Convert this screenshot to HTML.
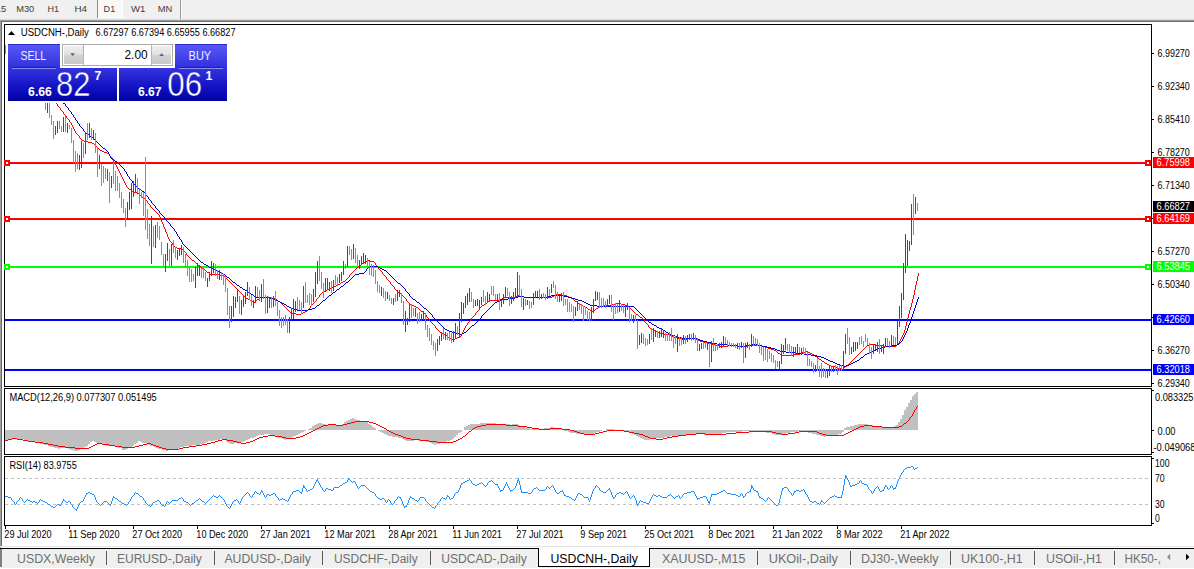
<!DOCTYPE html>
<html><head><meta charset="utf-8"><title>USDCNH-,Daily</title>
<style>html,body{margin:0;padding:0;background:#fff;width:1194px;height:569px;overflow:hidden;font-family:"Liberation Sans",sans-serif}</style>
</head><body>
<svg width="1194" height="569" viewBox="0 0 1194 569" shape-rendering="crispEdges" style="position:absolute;left:0;top:0;font-family:'Liberation Sans',sans-serif">
<rect x="0" y="0" width="1194" height="569" fill="#ffffff"/>
<rect x="0" y="0" width="1194" height="19" fill="#f0f0f0"/>
<rect x="0" y="19" width="1194" height="1" fill="#d9d9d9"/>
<rect x="0" y="20" width="1194" height="1" fill="#a0a0a0"/>
<rect x="0" y="21" width="1194" height="1" fill="#696969"/>
<rect x="0" y="20" width="1" height="529" fill="#a0a0a0"/>
<rect x="1" y="21" width="1" height="525" fill="#696969"/>
<path d="M4.5 24.5H1151.5V386.5H4.5Z" fill="none" stroke="#000" stroke-width="1"/>
<path d="M4.5 388.5H1151.5V454.5H4.5Z" fill="none" stroke="#000" stroke-width="1"/>
<path d="M4.5 456.5H1151.5V525.5H4.5Z" fill="none" stroke="#000" stroke-width="1"/>
<rect x="5" y="162" width="1146" height="2" fill="#ff0000"/>
<rect x="4" y="160" width="6" height="6" fill="#ff0000"/>
<rect x="6" y="162" width="2" height="2" fill="#fff"/>
<rect x="1145" y="160" width="6" height="6" fill="#ff0000"/>
<rect x="1147" y="162" width="2" height="2" fill="#fff"/>
<rect x="5" y="218" width="1146" height="2" fill="#ff0000"/>
<rect x="4" y="216" width="6" height="6" fill="#ff0000"/>
<rect x="6" y="218" width="2" height="2" fill="#fff"/>
<rect x="1145" y="216" width="6" height="6" fill="#ff0000"/>
<rect x="1147" y="218" width="2" height="2" fill="#fff"/>
<rect x="5" y="266" width="1146" height="2" fill="#00ff00"/>
<rect x="4" y="264" width="6" height="6" fill="#00ff00"/>
<rect x="6" y="266" width="2" height="2" fill="#fff"/>
<rect x="1145" y="264" width="6" height="6" fill="#00ff00"/>
<rect x="1147" y="266" width="2" height="2" fill="#fff"/>
<rect x="5" y="319" width="1146" height="2" fill="#0000ff"/>
<rect x="5" y="369" width="1146" height="2" fill="#0000ff"/>
<path d="M56 103.5h1M57.5 104v2M58 106.5h1M59 107.5h1M60.5 108v2M61 110.5h1M62 111.5h1M63.5 112v2M64 114.5h1M65 115.5h1M66.5 116v2M67 118.5h1M68 119.5h1M69.5 120v2M70 122.5h1M71.5 123v2M72.5 125v2M73.5 127v2M74.5 129v2M75.5 131v2M76 133.5h1M77 134.5h1M78 135.5h1M79.5 136v2M80 138.5h1M81 139.5h1M82 140.5h2M84 141.5h4M88 142.5h4M92 143.5h2M94 144.5h1M95 145.5h1M96 146.5h1M97 147.5h1M98 148.5h1M99 149.5h1M100 150.5h2M102 151.5h2M104 152.5h3M107 153.5h2M109.5 154v2M110 156.5h1M111.5 157v2M112 159.5h1M113.5 160v2M114 162.5h1M115.5 163v2M116.5 165v2M117.5 167v2M118.5 169v2M119.5 171v2M120.5 173v2M121.5 175v2M122.5 177v2M123.5 179v2M124.5 181v2M125.5 183v2M126.5 185v2M127 187.5h1M128 188.5h1M129 189.5h2M131 190.5h1M132 191.5h2M134 192.5h3M137 193.5h2M139 194.5h1M140 195.5h1M141 196.5h1M142 197.5h2M144 198.5h1M145 199.5h1M146 200.5h1M147.5 201v2M148 203.5h1M149 204.5h1M150.5 205v2M151 207.5h1M152 208.5h1M153 209.5h1M154 210.5h1M155 211.5h1M156 212.5h1M157 213.5h1M158 214.5h1M159.5 215v2M160.5 217v2M161.5 219v3M162.5 222v2M163.5 224v3M164.5 227v2M165.5 229v3M166.5 232v2M167.5 234v3M168.5 237v2M169.5 239v2M170 241.5h1M171 242.5h1M172.5 243v2M173 245.5h1M174 246.5h1M175 247.5h2M177 248.5h4M181 249.5h2M183 250.5h1M184 251.5h1M185 252.5h1M186.5 253v2M187 255.5h1M188 256.5h1M189 257.5h1M190 258.5h1M191 259.5h1M192 260.5h2M194 261.5h1M195 262.5h1M196 263.5h1M197 264.5h1M198 265.5h2M200 266.5h1M201 267.5h1M202 268.5h2M204 269.5h1M205 270.5h1M206 271.5h1M207 272.5h2M209 273.5h1M210 274.5h10M220 275.5h3M223 276.5h2M225 277.5h1M226 278.5h1M227 279.5h1M228 280.5h1M229 281.5h1M230 282.5h1M231 283.5h1M232 284.5h1M233 285.5h1M234 286.5h1M235 287.5h1M236 288.5h1M237 289.5h1M238 290.5h1M239 291.5h1M240 292.5h1M241 293.5h1M242 294.5h1M243 295.5h1M244 296.5h1M245 297.5h1M246 298.5h2M248 299.5h2M250 300.5h1M251 301.5h2M253 302.5h2M255 301.5h1M256 300.5h1M257 299.5h2M259 298.5h1M260 297.5h11M271 298.5h5M276 299.5h1M277 300.5h1M278 301.5h2M280 302.5h1M281 303.5h1M282 304.5h1M283 305.5h1M284 306.5h1M285 307.5h1M286 308.5h1M287 309.5h1M288 310.5h1M289 311.5h1M290 312.5h1M291 313.5h5M296 314.5h5M301 313.5h2M303 312.5h2M305 311.5h2M307 310.5h1M308 309.5h1M309 308.5h1M310.5 306v2M311 305.5h1M312 304.5h1M313 303.5h1M314 302.5h1M315 301.5h1M316.5 299v2M317 298.5h1M318 297.5h1M319.5 295v2M320 294.5h1M321 293.5h1M322 292.5h2M324 291.5h1M325 290.5h2M327 289.5h2M329 288.5h2M331 287.5h3M334 286.5h2M336 285.5h2M338 284.5h2M340 283.5h1M341 282.5h2M343 281.5h2M345 280.5h1M346 279.5h1M347 278.5h1M348 277.5h1M349.5 275v2M350 274.5h1M351 273.5h1M352 272.5h1M353 271.5h1M354 270.5h1M355 269.5h1M356 268.5h1M357 267.5h1M358 266.5h1M359 265.5h2M361 264.5h1M362 263.5h2M364 262.5h1M365 261.5h2M367 260.5h3M370 261.5h4M374 262.5h1M375.5 263v2M376 265.5h1M377 266.5h1M378.5 267v2M379 269.5h1M380 270.5h1M381 271.5h1M382.5 272v2M383 274.5h1M384 275.5h1M385 276.5h1M386.5 277v2M387 279.5h1M388 280.5h1M389 281.5h1M390.5 282v2M391 284.5h1M392 285.5h1M393 286.5h1M394.5 287v2M395 289.5h1M396 290.5h1M397 291.5h1M398 292.5h1M399 293.5h2M401 294.5h1M402 295.5h1M403 296.5h1M404 297.5h1M405 298.5h1M406.5 299v2M407 301.5h1M408 302.5h1M409 303.5h1M410 304.5h2M412 305.5h2M414 306.5h2M416 307.5h2M418 308.5h1M419 309.5h1M420 310.5h1M421 311.5h2M423 312.5h1M424 313.5h1M425 314.5h1M426.5 315v2M427 317.5h1M428 318.5h1M429.5 319v2M430 321.5h1M431 322.5h1M432 323.5h1M433 324.5h1M434 325.5h1M435.5 326v2M436 328.5h1M437 329.5h1M438 330.5h1M439 331.5h1M440 332.5h2M442 333.5h1M443 334.5h2M445 335.5h2M447 336.5h1M448 337.5h2M450 338.5h2M452 339.5h3M455 338.5h2M457 337.5h2M459 336.5h2M461.5 334v2M462.5 332v2M463.5 330v2M464.5 328v2M465.5 326v2M466 325.5h1M467.5 323v2M468 322.5h1M469 321.5h1M470 320.5h1M471.5 318v2M472 317.5h1M473 316.5h1M474 315.5h1M475.5 313v2M476 312.5h1M477 311.5h1M478 310.5h1M479.5 308v2M480 307.5h1M481 306.5h1M482 305.5h2M484 304.5h1M485 303.5h2M487 302.5h1M488 301.5h2M490 300.5h10M500 299.5h2M502 298.5h2M504 297.5h11M515 296.5h2M517 295.5h3M520 296.5h4M524 297.5h28M552 296.5h2M554 295.5h2M556 294.5h5M561 295.5h6M567 296.5h2M569 297.5h2M571 298.5h2M573 299.5h1M574 300.5h1M575 301.5h2M577 302.5h1M578 303.5h1M579 304.5h2M581 305.5h2M583 306.5h2M585 307.5h2M587 308.5h1M588 309.5h2M590 310.5h2M592 311.5h1M593 310.5h2M595 309.5h1M596 308.5h2M598 307.5h2M600 306.5h4M604 305.5h7M611 304.5h5M616 303.5h5M621 304.5h4M625 305.5h3M628 306.5h1M629 307.5h1M630 308.5h1M631 309.5h1M632 310.5h1M633 311.5h1M634 312.5h1M635 313.5h1M636 314.5h2M638 315.5h1M639 316.5h1M640 317.5h2M642 318.5h1M643 319.5h1M644.5 320v2M645 322.5h1M646 323.5h1M647 324.5h1M648.5 325v2M649 327.5h1M650 328.5h1M651 329.5h2M653 330.5h2M655 331.5h2M657 332.5h2M659 333.5h4M663 334.5h6M669 335.5h2M671 336.5h3M674 337.5h4M678 338.5h4M682 339.5h5M687 338.5h9M696 339.5h2M698 340.5h2M700 341.5h3M703 342.5h4M707 343.5h4M711 344.5h4M715 345.5h5M720 346.5h8M728 345.5h10M738 346.5h10M748 345.5h14M762 346.5h3M765 347.5h3M768 348.5h3M771 349.5h3M774 350.5h2M776 351.5h1M777 352.5h1M778 353.5h2M780 354.5h1M781 355.5h13M794 354.5h6M800 353.5h2M802 352.5h3M805 351.5h3M808 352.5h2M810 353.5h2M812 354.5h2M814 355.5h1M815 356.5h2M817 357.5h1M818 358.5h1M819 359.5h2M821 360.5h1M822 361.5h2M824 362.5h1M825 363.5h2M827 364.5h2M829 365.5h2M831 366.5h4M835 367.5h3M838 368.5h3M841 369.5h2M843 368.5h1M844 367.5h1M845 366.5h2M847 365.5h1M848 364.5h1M849 363.5h1M850 362.5h1M851 361.5h1M852 360.5h1M853 359.5h1M854 358.5h1M855 357.5h1M856 356.5h1M857 355.5h1M858 354.5h1M859 353.5h1M860 352.5h1M861 351.5h1M862 350.5h1M863 349.5h1M864 348.5h1M865 347.5h1M866 346.5h1M867 345.5h2M869 344.5h6M875 345.5h8M883 346.5h13M896 345.5h1M897 344.5h1M898 343.5h1M899.5 341v2M900.5 339v2M901.5 337v2M902.5 335v2M903.5 333v2M904.5 330v3M905.5 326v4M906.5 322v4M907.5 318v4M908.5 314v4M909.5 310v4M910.5 307v3M911.5 303v4M912.5 299v4M913.5 295v4M914.5 290v5M915.5 285v5M916.5 281v4M917.5 276v5M918.5 273v3" fill="none" stroke="#ff0000" stroke-width="1"/>
<path d="M63 103.5h2M65.5 104v2M66 106.5h1M67 107.5h1M68.5 108v2M69 110.5h1M70 111.5h1M71.5 112v2M72 114.5h1M73.5 115v2M74 117.5h1M75.5 118v2M76 120.5h1M77.5 121v2M78 123.5h1M79.5 124v2M80 126.5h1M81 127.5h1M82 128.5h1M83.5 129v2M84 131.5h1M85 132.5h1M86 133.5h1M87 134.5h2M89 135.5h1M90 136.5h1M91 137.5h2M93 138.5h1M94 139.5h1M95 140.5h1M96 141.5h1M97 142.5h1M98 143.5h1M99 144.5h1M100 145.5h1M101 146.5h1M102 147.5h1M103 148.5h2M105 149.5h1M106 150.5h1M107 151.5h1M108.5 152v2M109.5 154v2M110.5 156v2M111 158.5h2M113 159.5h1M114 160.5h1M115 161.5h2M117 162.5h1M118 163.5h1M119 164.5h1M120 165.5h1M121 166.5h1M122 167.5h1M123 168.5h1M124.5 169v2M125 171.5h1M126.5 172v2M127.5 174v2M128 176.5h1M129.5 177v2M130 179.5h1M131 180.5h1M132.5 181v2M133 183.5h1M134 184.5h1M135 185.5h1M136 186.5h1M137 187.5h1M138 188.5h1M139 189.5h2M141 190.5h1M142 191.5h2M144 192.5h1M145.5 193v2M146 195.5h1M147 196.5h1M148.5 197v2M149 199.5h1M150 200.5h1M151.5 201v2M152 203.5h1M153 204.5h1M154 205.5h1M155.5 206v2M156 208.5h1M157 209.5h1M158 210.5h1M159.5 211v2M160 213.5h1M161 214.5h1M162 215.5h1M163 216.5h1M164.5 217v2M165 219.5h1M166 220.5h1M167 221.5h1M168 222.5h1M169 223.5h1M170.5 224v2M171 226.5h1M172 227.5h1M173 228.5h1M174.5 229v2M175 231.5h1M176.5 232v2M177.5 234v2M178 236.5h1M179.5 237v2M180 239.5h1M181.5 240v2M182.5 242v2M183 244.5h1M184 245.5h1M185 246.5h1M186 247.5h1M187 248.5h1M188 249.5h1M189 250.5h1M190 251.5h1M191 252.5h1M192 253.5h1M193 254.5h1M194 255.5h1M195 256.5h1M196 257.5h1M197 258.5h1M198 259.5h1M199 260.5h1M200 261.5h1M201 262.5h2M203 263.5h1M204 264.5h2M206 265.5h2M208 266.5h1M209 267.5h2M211 268.5h2M213 269.5h2M215 270.5h2M217 271.5h2M219 272.5h2M221 273.5h2M223 274.5h2M225 275.5h1M226 276.5h1M227 277.5h2M229 278.5h1M230 279.5h1M231 280.5h1M232 281.5h1M233 282.5h2M235 283.5h1M236 284.5h1M237 285.5h2M239 286.5h1M240 287.5h2M242 288.5h1M243 289.5h2M245 290.5h2M247 291.5h1M248 292.5h2M250 293.5h1M251 294.5h2M253 295.5h1M254 296.5h2M256 297.5h13M269 298.5h4M273 299.5h3M276 300.5h2M278 301.5h2M280 302.5h2M282 303.5h2M284 304.5h2M286 305.5h1M287 306.5h2M289 307.5h2M291 308.5h2M293 309.5h4M297 310.5h11M308 309.5h4M312 308.5h3M315 307.5h1M316 306.5h1M317 305.5h2M319 304.5h1M320 303.5h1M321 302.5h1M322 301.5h1M323 300.5h2M325 299.5h1M326 298.5h1M327 297.5h1M328 296.5h1M329 295.5h2M331 294.5h1M332 293.5h1M333 292.5h2M335 291.5h1M336 290.5h1M337 289.5h2M339 288.5h1M340 287.5h1M341 286.5h2M343 285.5h1M344 284.5h1M345 283.5h1M346 282.5h2M348 281.5h1M349 280.5h1M350 279.5h1M351 278.5h1M352 277.5h1M353 276.5h1M354 275.5h1M355 274.5h4M359 273.5h5M364 272.5h1M365 271.5h1M366.5 269v2M367 268.5h1M368 267.5h1M369 266.5h9M378 267.5h2M380 268.5h2M382 269.5h2M384 270.5h2M386 271.5h1M387 272.5h1M388 273.5h1M389 274.5h1M390 275.5h1M391 276.5h1M392 277.5h1M393 278.5h1M394 279.5h1M395 280.5h1M396 281.5h1M397 282.5h1M398 283.5h2M400 284.5h1M401 285.5h1M402 286.5h1M403 287.5h1M404 288.5h1M405.5 289v2M406 291.5h1M407 292.5h1M408 293.5h1M409.5 294v2M410 296.5h1M411 297.5h1M412 298.5h1M413 299.5h2M415 300.5h1M416 301.5h1M417 302.5h2M419 303.5h1M420 304.5h1M421 305.5h1M422 306.5h1M423 307.5h1M424 308.5h2M426 309.5h1M427 310.5h1M428 311.5h1M429 312.5h1M430 313.5h1M431 314.5h1M432.5 315v2M433 317.5h1M434 318.5h1M435 319.5h1M436 320.5h1M437 321.5h1M438 322.5h1M439 323.5h1M440 324.5h1M441 325.5h1M442 326.5h1M443 327.5h1M444 328.5h1M445 329.5h2M447 330.5h2M449 331.5h3M452 332.5h3M455 333.5h4M459 334.5h3M462 333.5h2M464 332.5h2M466 331.5h1M467 330.5h1M468 329.5h1M469 328.5h1M470 327.5h1M471 326.5h1M472 325.5h2M474 324.5h1M475 323.5h1M476 322.5h1M477 321.5h1M478 320.5h1M479 319.5h1M480 318.5h1M481.5 316v2M482 315.5h1M483 314.5h1M484 313.5h1M485 312.5h1M486 311.5h1M487 310.5h1M488 309.5h1M489 308.5h1M490 307.5h1M491 306.5h1M492 305.5h1M493 304.5h1M494 303.5h1M495 302.5h2M497 301.5h2M499 300.5h2M501 299.5h7M508 298.5h7M515 297.5h3M518 296.5h6M524 297.5h23M547 296.5h4M551 295.5h13M564 296.5h4M568 297.5h4M572 298.5h3M575 299.5h3M578 300.5h4M582 301.5h2M584 302.5h2M586 303.5h2M588 304.5h2M590 305.5h7M597 306.5h37M634 307.5h1M635 308.5h1M636 309.5h1M637 310.5h1M638 311.5h1M639 312.5h1M640 313.5h1M641 314.5h1M642 315.5h1M643 316.5h1M644 317.5h1M645 318.5h1M646 319.5h1M647 320.5h1M648 321.5h1M649 322.5h2M651 323.5h1M652 324.5h2M654 325.5h2M656 326.5h1M657 327.5h2M659 328.5h2M661 329.5h2M663 330.5h2M665 331.5h1M666 332.5h2M668 333.5h2M670 334.5h2M672 335.5h3M675 336.5h3M678 337.5h3M681 338.5h16M697 339.5h3M700 340.5h3M703 341.5h4M707 342.5h4M711 343.5h6M717 344.5h11M728 345.5h10M738 346.5h8M746 345.5h6M752 344.5h5M757 345.5h5M762 346.5h5M767 347.5h4M771 348.5h4M775 349.5h2M777 350.5h3M780 351.5h6M786 352.5h9M795 353.5h9M804 354.5h7M811 355.5h6M817 356.5h4M821 357.5h3M824 358.5h2M826 359.5h2M828 360.5h2M830 361.5h3M833 362.5h2M835 363.5h2M837 364.5h3M840 365.5h3M843 366.5h3M846 365.5h3M849 364.5h2M851 363.5h2M853 362.5h2M855 361.5h2M857 360.5h2M859 359.5h1M860 358.5h1M861 357.5h2M863 356.5h1M864 355.5h1M865 354.5h2M867 353.5h3M870 352.5h2M872 351.5h2M874 350.5h2M876 349.5h2M878 348.5h3M881 347.5h4M885 346.5h6M891 345.5h6M897 344.5h2M899 343.5h1M900 342.5h1M901 341.5h1M902.5 339v2M903.5 337v2M904.5 335v2M905.5 333v2M906.5 331v2M907.5 328v3M908.5 325v3M909.5 323v2M910.5 320v3M911.5 317v3M912.5 314v3M913.5 311v3M914.5 308v3M915.5 305v3M916.5 302v3M917.5 299v3M918.5 297v2" fill="none" stroke="#0000cd" stroke-width="1"/>
<path d="M45.5 103V110M49.5 103V118M51.5 115V125M53.5 121V139M59.5 121V129M61.5 126V132M65.5 116V132M69.5 125V129M71.5 128V143M73.5 140V163M75.5 151V172M77.5 153V169M83.5 143V158M87.5 123V140M91.5 128V140M95.5 133V153M97.5 147V177M101.5 164V186M103.5 166V183M105.5 168V179M109.5 172V203M113.5 162V184M115.5 171V191M117.5 176V191M119.5 183V198M121.5 192V208M123.5 199V213M125.5 208V227M137.5 178V193M139.5 188V204M141.5 192V198M143.5 192V216M145.5 157V230M147.5 209V239M149.5 224V246M153.5 226V247M157.5 222V238M159.5 226V240M161.5 242V255M163.5 254V266M169.5 249V266M173.5 240V253M175.5 247V258M183.5 247V263M185.5 254V267M187.5 260V276M189.5 266V282M191.5 269V282M193.5 274V281M201.5 268V278M203.5 266V278M205.5 272V281M215.5 264V276M217.5 270V279M221.5 272V280M223.5 274V285M225.5 276V292M227.5 288V315M229.5 306V328M239.5 296V314M249.5 287V300M251.5 295V306M257.5 287V297M259.5 290V301M263.5 279V299M265.5 295V314M271.5 297V308M275.5 291V306M277.5 302V316M279.5 310V326M281.5 317V328M283.5 317V326M285.5 315V325M287.5 319V333M297.5 297V310M299.5 300V310M301.5 302V314M305.5 282V303M307.5 295V303M309.5 293V305M311.5 294V306M319.5 256V281M321.5 272V289M323.5 283V298M331.5 281V293M335.5 275V285M337.5 277V286M345.5 264V269M349.5 246V255M351.5 249V260M355.5 248V263M357.5 255V267M367.5 258V266M369.5 261V275M371.5 264V276M373.5 265V277M375.5 270V284M377.5 281V292M379.5 285V293M383.5 288V298M385.5 291V301M389.5 295V301M391.5 298V304M395.5 294V302M401.5 293V303M403.5 301V325M411.5 304V318M413.5 308V316M417.5 313V324M419.5 312V322M425.5 313V330M427.5 325V337M429.5 328V341M431.5 334V345M433.5 341V350M435.5 343V356M443.5 328V339M447.5 333V340M449.5 332V341M451.5 333V343M457.5 326V335M471.5 292V302M473.5 299V308M483.5 290V302M485.5 296V305M491.5 286V295M493.5 286V296M495.5 294V300M499.5 293V310M507.5 288V296M509.5 292V306M519.5 275V296M521.5 289V307M525.5 299V306M529.5 301V309M531.5 302V308M539.5 289V300M543.5 293V298M545.5 294V300M549.5 289V296M553.5 281V288M555.5 285V299M557.5 292V302M563.5 292V306M565.5 299V305M567.5 299V312M569.5 302V312M571.5 304V312M573.5 306V322M579.5 303V310M581.5 304V314M583.5 306V321M585.5 307V315M587.5 311V320M589.5 312V321M599.5 292V308M601.5 298V308M603.5 298V307M605.5 301V308M611.5 295V312M613.5 304V320M615.5 303V314M617.5 304V313M621.5 304V311M623.5 305V313M629.5 307V322M631.5 314V321M635.5 315V321M637.5 320V349M643.5 334V344M645.5 338V346M647.5 339V345M651.5 328V340M657.5 331V338M665.5 333V341M667.5 334V341M669.5 332V341M671.5 328V341M673.5 335V348M675.5 336V344M679.5 337V346M681.5 337V345M685.5 336V344M691.5 334V341M695.5 335V343M697.5 338V351M703.5 342V349M705.5 342V348M709.5 343V367M713.5 338V351M715.5 344V351M717.5 344V350M725.5 337V344M727.5 340V346M729.5 342V346M731.5 343V347M733.5 343V347M735.5 344V348M739.5 343V350M743.5 343V363M749.5 344V350M753.5 336V346M755.5 338V345M757.5 339V346M759.5 343V353M761.5 346V355M763.5 347V361M765.5 348V360M767.5 349V362M769.5 351V359M771.5 353V362M773.5 355V363M775.5 360V369M777.5 361V367M787.5 344V351M789.5 344V353M791.5 346V356M799.5 347V353M803.5 347V354M805.5 348V354M807.5 352V366M809.5 359V366M811.5 361V367M813.5 363V373M817.5 358V371M819.5 366V377M821.5 363V378M823.5 368V377M825.5 369V378M831.5 367V372M835.5 365V371M837.5 366V375M839.5 365V371M841.5 365V371M847.5 328V344M849.5 337V355M859.5 337V345M861.5 336V344M863.5 341V347M865.5 334V342M867.5 338V345M869.5 343V354M871.5 347V359M879.5 339V354M887.5 338V346M889.5 341V348M893.5 336V345M895.5 337V345M913.5 194V235M917.5 203V211" stroke="#32cd32" stroke-width="1" fill="none"/>
<path d="M47.5 103V113M55.5 126V135M57.5 121V133M63.5 117V132M67.5 123V133M79.5 155V170M81.5 141V168M85.5 132V154M89.5 123V138M93.5 130V140M99.5 155V169M107.5 169V181M111.5 176V188M127.5 202V219M129.5 192V210M131.5 183V209M133.5 181V197M135.5 174V193M151.5 216V264M155.5 225V248M165.5 254V272M167.5 243V261M171.5 244V266M177.5 250V260M179.5 248V256M181.5 245V255M195.5 267V288M197.5 263V276M199.5 266V276M207.5 278V287M209.5 272V281M211.5 261V276M213.5 263V273M219.5 270V280M231.5 306V322M233.5 296V317M235.5 297V308M237.5 289V302M241.5 300V315M243.5 296V307M245.5 292V304M247.5 282V296M253.5 300V308M255.5 286V303M261.5 284V302M267.5 296V313M269.5 297V308M273.5 296V307M289.5 317V333M291.5 308V320M293.5 299V319M295.5 301V312M303.5 286V308M313.5 289V302M315.5 272V297M317.5 261V284M325.5 278V292M327.5 278V290M329.5 282V291M333.5 280V291M339.5 274V283M341.5 272V281M343.5 261V275M347.5 246V267M353.5 244V259M359.5 260V269M361.5 256V264M363.5 253V263M365.5 255V264M381.5 287V296M387.5 292V299M393.5 298V305M397.5 290V301M399.5 290V297M405.5 311V332M407.5 318V325M409.5 303V322M415.5 308V317M421.5 314V321M423.5 311V320M437.5 339V351M439.5 336V345M441.5 333V341M445.5 332V340M453.5 331V342M455.5 323V339M459.5 313V338M461.5 302V322M463.5 303V314M465.5 296V308M467.5 293V305M469.5 288V302M475.5 300V306M477.5 299V306M479.5 300V308M481.5 297V305M487.5 292V302M489.5 294V301M497.5 294V301M501.5 300V307M503.5 294V304M505.5 287V298M511.5 296V304M513.5 292V301M515.5 288V298M517.5 272V297M523.5 298V310M527.5 300V305M533.5 293V305M535.5 291V298M537.5 291V297M541.5 294V299M547.5 287V299M551.5 284V293M559.5 296V302M561.5 293V301M575.5 307V316M577.5 301V311M591.5 307V321M593.5 299V313M595.5 291V301M597.5 292V300M607.5 299V307M609.5 295V304M619.5 300V312M625.5 305V317M627.5 303V310M633.5 315V323M639.5 335V345M641.5 333V343M649.5 334V344M653.5 328V342M655.5 330V337M659.5 331V338M661.5 328V337M663.5 330V338M677.5 334V352M683.5 335V344M687.5 335V342M689.5 334V340M693.5 333V340M699.5 344V351M701.5 343V349M707.5 342V350M711.5 341V362M719.5 343V348M721.5 342V348M723.5 336V347M737.5 343V349M741.5 342V348M745.5 343V358M747.5 342V348M751.5 334V347M779.5 361V370M781.5 344V364M783.5 345V354M785.5 338V350M793.5 347V357M795.5 347V354M797.5 344V354M801.5 348V355M815.5 365V372M827.5 369V378M829.5 365V376M833.5 366V372M843.5 351V370M845.5 334V354M851.5 347V354M853.5 342V352M855.5 342V351M857.5 342V349M873.5 345V354M875.5 344V350M877.5 342V352M881.5 345V352M883.5 344V354M885.5 338V347M891.5 335V346M897.5 321V344M899.5 306V327M901.5 293V318M903.5 263V300M905.5 234V273M907.5 240V266M909.5 241V251M911.5 204V245M915.5 197V214" stroke="#ff0000" stroke-width="1" fill="none"/>
<rect x="5" y="45" width="1" height="9" fill="#32cd32"/>
<g fill="#c0c0c0"><rect x="5" y="430" width="1" height="10"/><rect x="6" y="430" width="2" height="10"/><rect x="8" y="430" width="2" height="9"/><rect x="10" y="430" width="2" height="9"/><rect x="12" y="430" width="2" height="9"/><rect x="14" y="430" width="2" height="9"/><rect x="16" y="430" width="2" height="9"/><rect x="18" y="430" width="2" height="9"/><rect x="20" y="430" width="2" height="9"/><rect x="22" y="430" width="2" height="9"/><rect x="24" y="430" width="2" height="10"/><rect x="26" y="430" width="2" height="11"/><rect x="28" y="430" width="2" height="11"/><rect x="30" y="430" width="2" height="12"/><rect x="32" y="430" width="2" height="12"/><rect x="34" y="430" width="2" height="12"/><rect x="36" y="430" width="2" height="13"/><rect x="38" y="430" width="2" height="13"/><rect x="40" y="430" width="2" height="14"/><rect x="42" y="430" width="2" height="14"/><rect x="44" y="430" width="2" height="15"/><rect x="46" y="430" width="2" height="15"/><rect x="48" y="430" width="2" height="16"/><rect x="50" y="430" width="2" height="17"/><rect x="52" y="430" width="2" height="17"/><rect x="54" y="430" width="2" height="18"/><rect x="56" y="430" width="2" height="18"/><rect x="58" y="430" width="2" height="19"/><rect x="60" y="430" width="2" height="18"/><rect x="62" y="430" width="2" height="18"/><rect x="64" y="430" width="2" height="18"/><rect x="66" y="430" width="2" height="18"/><rect x="68" y="430" width="2" height="19"/><rect x="70" y="430" width="2" height="20"/><rect x="72" y="430" width="2" height="20"/><rect x="74" y="430" width="2" height="21"/><rect x="76" y="430" width="2" height="21"/><rect x="78" y="430" width="2" height="20"/><rect x="80" y="430" width="2" height="19"/><rect x="82" y="430" width="2" height="19"/><rect x="84" y="430" width="2" height="17"/><rect x="86" y="430" width="2" height="16"/><rect x="88" y="430" width="2" height="14"/><rect x="90" y="430" width="2" height="12"/><rect x="92" y="430" width="2" height="11"/><rect x="94" y="430" width="2" height="12"/><rect x="96" y="430" width="2" height="13"/><rect x="98" y="430" width="2" height="14"/><rect x="100" y="430" width="2" height="14"/><rect x="102" y="430" width="2" height="15"/><rect x="104" y="430" width="2" height="15"/><rect x="106" y="430" width="2" height="16"/><rect x="108" y="430" width="2" height="16"/><rect x="110" y="430" width="2" height="16"/><rect x="112" y="430" width="2" height="16"/><rect x="114" y="430" width="2" height="16"/><rect x="116" y="430" width="2" height="16"/><rect x="118" y="430" width="2" height="18"/><rect x="120" y="430" width="2" height="18"/><rect x="122" y="430" width="2" height="20"/><rect x="124" y="430" width="2" height="20"/><rect x="126" y="430" width="2" height="19"/><rect x="128" y="430" width="2" height="18"/><rect x="130" y="430" width="2" height="17"/><rect x="132" y="430" width="2" height="16"/><rect x="134" y="430" width="2" height="14"/><rect x="136" y="430" width="2" height="13"/><rect x="138" y="430" width="2" height="11"/><rect x="140" y="430" width="2" height="12"/><rect x="142" y="430" width="2" height="13"/><rect x="144" y="430" width="2" height="13"/><rect x="146" y="430" width="2" height="14"/><rect x="148" y="430" width="2" height="15"/><rect x="150" y="430" width="2" height="16"/><rect x="152" y="430" width="2" height="16"/><rect x="154" y="430" width="2" height="17"/><rect x="156" y="430" width="2" height="18"/><rect x="158" y="430" width="2" height="19"/><rect x="160" y="430" width="2" height="19"/><rect x="162" y="430" width="2" height="20"/><rect x="164" y="430" width="2" height="20"/><rect x="166" y="430" width="2" height="21"/><rect x="168" y="430" width="2" height="20"/><rect x="170" y="430" width="2" height="20"/><rect x="172" y="430" width="2" height="19"/><rect x="174" y="430" width="2" height="19"/><rect x="176" y="430" width="2" height="19"/><rect x="178" y="430" width="2" height="18"/><rect x="180" y="430" width="2" height="17"/><rect x="182" y="430" width="2" height="17"/><rect x="184" y="430" width="2" height="16"/><rect x="186" y="430" width="2" height="16"/><rect x="188" y="430" width="2" height="16"/><rect x="190" y="430" width="2" height="16"/><rect x="192" y="430" width="2" height="15"/><rect x="194" y="430" width="2" height="15"/><rect x="196" y="430" width="2" height="15"/><rect x="198" y="430" width="2" height="15"/><rect x="200" y="430" width="2" height="14"/><rect x="202" y="430" width="2" height="14"/><rect x="204" y="430" width="2" height="13"/><rect x="206" y="430" width="2" height="12"/><rect x="208" y="430" width="2" height="11"/><rect x="210" y="430" width="2" height="11"/><rect x="212" y="430" width="2" height="11"/><rect x="214" y="430" width="2" height="10"/><rect x="216" y="430" width="2" height="10"/><rect x="218" y="430" width="2" height="10"/><rect x="220" y="430" width="2" height="9"/><rect x="222" y="430" width="2" height="9"/><rect x="224" y="430" width="2" height="10"/><rect x="226" y="430" width="2" height="12"/><rect x="228" y="430" width="2" height="13"/><rect x="230" y="430" width="2" height="14"/><rect x="232" y="430" width="2" height="14"/><rect x="234" y="430" width="2" height="13"/><rect x="236" y="430" width="2" height="13"/><rect x="238" y="430" width="2" height="12"/><rect x="240" y="430" width="2" height="12"/><rect x="242" y="430" width="2" height="12"/><rect x="244" y="430" width="2" height="11"/><rect x="246" y="430" width="2" height="10"/><rect x="248" y="430" width="2" height="9"/><rect x="250" y="430" width="2" height="8"/><rect x="252" y="430" width="2" height="8"/><rect x="254" y="430" width="2" height="7"/><rect x="256" y="430" width="2" height="6"/><rect x="258" y="430" width="2" height="5"/><rect x="260" y="430" width="2" height="5"/><rect x="262" y="430" width="2" height="5"/><rect x="264" y="430" width="2" height="4"/><rect x="266" y="430" width="2" height="4"/><rect x="268" y="430" width="2" height="4"/><rect x="270" y="430" width="2" height="5"/><rect x="272" y="430" width="2" height="5"/><rect x="274" y="430" width="2" height="6"/><rect x="276" y="430" width="2" height="7"/><rect x="278" y="430" width="2" height="8"/><rect x="280" y="430" width="2" height="8"/><rect x="282" y="430" width="2" height="9"/><rect x="284" y="430" width="2" height="10"/><rect x="286" y="430" width="2" height="9"/><rect x="288" y="430" width="2" height="9"/><rect x="290" y="430" width="2" height="8"/><rect x="292" y="430" width="2" height="7"/><rect x="294" y="430" width="2" height="6"/><rect x="296" y="430" width="2" height="5"/><rect x="298" y="430" width="2" height="4"/><rect x="300" y="430" width="2" height="3"/><rect x="302" y="430" width="2" height="2"/><rect x="304" y="430" width="2" height="1"/><rect x="308" y="429" width="2" height="1"/><rect x="310" y="428" width="2" height="2"/><rect x="312" y="426" width="2" height="4"/><rect x="314" y="425" width="2" height="5"/><rect x="316" y="424" width="2" height="6"/><rect x="318" y="423" width="2" height="7"/><rect x="320" y="423" width="2" height="7"/><rect x="322" y="424" width="2" height="6"/><rect x="324" y="424" width="2" height="6"/><rect x="326" y="425" width="2" height="5"/><rect x="328" y="425" width="2" height="5"/><rect x="330" y="425" width="2" height="5"/><rect x="332" y="425" width="2" height="5"/><rect x="334" y="425" width="2" height="5"/><rect x="336" y="425" width="2" height="5"/><rect x="338" y="425" width="2" height="5"/><rect x="340" y="425" width="2" height="5"/><rect x="342" y="424" width="2" height="6"/><rect x="344" y="422" width="2" height="8"/><rect x="346" y="421" width="2" height="9"/><rect x="348" y="420" width="2" height="10"/><rect x="350" y="419" width="2" height="11"/><rect x="352" y="418" width="2" height="12"/><rect x="354" y="419" width="2" height="11"/><rect x="356" y="420" width="2" height="10"/><rect x="358" y="420" width="2" height="10"/><rect x="360" y="421" width="2" height="9"/><rect x="362" y="421" width="2" height="9"/><rect x="364" y="421" width="2" height="9"/><rect x="366" y="422" width="2" height="8"/><rect x="368" y="424" width="2" height="6"/><rect x="370" y="425" width="2" height="5"/><rect x="372" y="427" width="2" height="3"/><rect x="374" y="428" width="2" height="2"/><rect x="378" y="430" width="2" height="1"/><rect x="380" y="430" width="2" height="2"/><rect x="382" y="430" width="2" height="3"/><rect x="384" y="430" width="2" height="4"/><rect x="386" y="430" width="2" height="5"/><rect x="388" y="430" width="2" height="6"/><rect x="390" y="430" width="2" height="6"/><rect x="392" y="430" width="2" height="7"/><rect x="394" y="430" width="2" height="7"/><rect x="396" y="430" width="2" height="7"/><rect x="398" y="430" width="2" height="8"/><rect x="400" y="430" width="2" height="8"/><rect x="402" y="430" width="2" height="9"/><rect x="404" y="430" width="2" height="10"/><rect x="406" y="430" width="2" height="11"/><rect x="408" y="430" width="2" height="11"/><rect x="410" y="430" width="2" height="11"/><rect x="412" y="430" width="2" height="11"/><rect x="414" y="430" width="2" height="10"/><rect x="416" y="430" width="2" height="10"/><rect x="418" y="430" width="2" height="11"/><rect x="420" y="430" width="2" height="11"/><rect x="422" y="430" width="2" height="11"/><rect x="424" y="430" width="2" height="11"/><rect x="426" y="430" width="2" height="12"/><rect x="428" y="430" width="2" height="12"/><rect x="430" y="430" width="2" height="13"/><rect x="432" y="430" width="2" height="14"/><rect x="434" y="430" width="2" height="15"/><rect x="436" y="430" width="2" height="14"/><rect x="438" y="430" width="2" height="14"/><rect x="440" y="430" width="2" height="13"/><rect x="442" y="430" width="2" height="12"/><rect x="444" y="430" width="2" height="12"/><rect x="446" y="430" width="2" height="11"/><rect x="448" y="430" width="2" height="11"/><rect x="450" y="430" width="2" height="10"/><rect x="452" y="430" width="2" height="9"/><rect x="454" y="430" width="2" height="7"/><rect x="456" y="430" width="2" height="5"/><rect x="458" y="430" width="2" height="3"/><rect x="460" y="430" width="2" height="2"/><rect x="464" y="427" width="2" height="3"/><rect x="466" y="426" width="2" height="4"/><rect x="468" y="425" width="2" height="5"/><rect x="470" y="424" width="2" height="6"/><rect x="472" y="424" width="2" height="6"/><rect x="474" y="424" width="2" height="6"/><rect x="476" y="424" width="2" height="6"/><rect x="478" y="424" width="2" height="6"/><rect x="480" y="423" width="2" height="7"/><rect x="482" y="423" width="2" height="7"/><rect x="484" y="423" width="2" height="7"/><rect x="486" y="423" width="2" height="7"/><rect x="488" y="423" width="2" height="7"/><rect x="490" y="423" width="2" height="7"/><rect x="492" y="423" width="2" height="7"/><rect x="494" y="423" width="2" height="7"/><rect x="496" y="424" width="2" height="6"/><rect x="498" y="424" width="2" height="6"/><rect x="500" y="424" width="2" height="6"/><rect x="502" y="424" width="2" height="6"/><rect x="504" y="424" width="2" height="6"/><rect x="506" y="424" width="2" height="6"/><rect x="508" y="424" width="2" height="6"/><rect x="510" y="425" width="2" height="5"/><rect x="512" y="424" width="2" height="6"/><rect x="514" y="424" width="2" height="6"/><rect x="516" y="424" width="2" height="6"/><rect x="518" y="425" width="2" height="5"/><rect x="520" y="426" width="2" height="4"/><rect x="522" y="426" width="2" height="4"/><rect x="524" y="427" width="2" height="3"/><rect x="526" y="428" width="2" height="2"/><rect x="528" y="428" width="2" height="2"/><rect x="530" y="429" width="2" height="1"/><rect x="532" y="429" width="2" height="1"/><rect x="534" y="429" width="2" height="1"/><rect x="536" y="429" width="2" height="1"/><rect x="538" y="429" width="2" height="1"/><rect x="540" y="429" width="2" height="1"/><rect x="542" y="429" width="2" height="1"/><rect x="544" y="428" width="2" height="2"/><rect x="546" y="428" width="2" height="2"/><rect x="548" y="428" width="2" height="2"/><rect x="550" y="427" width="2" height="3"/><rect x="552" y="427" width="2" height="3"/><rect x="554" y="428" width="2" height="2"/><rect x="556" y="428" width="2" height="2"/><rect x="558" y="428" width="2" height="2"/><rect x="560" y="429" width="2" height="1"/><rect x="564" y="430" width="2" height="1"/><rect x="566" y="430" width="2" height="1"/><rect x="568" y="430" width="2" height="2"/><rect x="570" y="430" width="2" height="3"/><rect x="572" y="430" width="2" height="3"/><rect x="574" y="430" width="2" height="3"/><rect x="576" y="430" width="2" height="4"/><rect x="578" y="430" width="2" height="4"/><rect x="580" y="430" width="2" height="4"/><rect x="582" y="430" width="2" height="4"/><rect x="584" y="430" width="2" height="5"/><rect x="586" y="430" width="2" height="4"/><rect x="588" y="430" width="2" height="4"/><rect x="590" y="430" width="2" height="4"/><rect x="592" y="430" width="2" height="4"/><rect x="594" y="430" width="2" height="3"/><rect x="596" y="430" width="2" height="2"/><rect x="598" y="430" width="2" height="2"/><rect x="600" y="430" width="2" height="1"/><rect x="606" y="429" width="2" height="1"/><rect x="608" y="429" width="2" height="1"/><rect x="610" y="429" width="2" height="1"/><rect x="612" y="429" width="2" height="1"/><rect x="624" y="430" width="2" height="1"/><rect x="626" y="430" width="2" height="1"/><rect x="628" y="430" width="2" height="2"/><rect x="630" y="430" width="2" height="3"/><rect x="632" y="430" width="2" height="4"/><rect x="634" y="430" width="2" height="5"/><rect x="636" y="430" width="2" height="6"/><rect x="638" y="430" width="2" height="7"/><rect x="640" y="430" width="2" height="8"/><rect x="642" y="430" width="2" height="9"/><rect x="644" y="430" width="2" height="10"/><rect x="646" y="430" width="2" height="10"/><rect x="648" y="430" width="2" height="10"/><rect x="650" y="430" width="2" height="9"/><rect x="652" y="430" width="2" height="9"/><rect x="654" y="430" width="2" height="8"/><rect x="656" y="430" width="2" height="8"/><rect x="658" y="430" width="2" height="8"/><rect x="660" y="430" width="2" height="8"/><rect x="662" y="430" width="2" height="8"/><rect x="664" y="430" width="2" height="7"/><rect x="666" y="430" width="2" height="7"/><rect x="668" y="430" width="2" height="7"/><rect x="670" y="430" width="2" height="6"/><rect x="672" y="430" width="2" height="6"/><rect x="674" y="430" width="2" height="6"/><rect x="676" y="430" width="2" height="6"/><rect x="678" y="430" width="2" height="6"/><rect x="680" y="430" width="2" height="5"/><rect x="682" y="430" width="2" height="5"/><rect x="684" y="430" width="2" height="5"/><rect x="686" y="430" width="2" height="4"/><rect x="688" y="430" width="2" height="4"/><rect x="690" y="430" width="2" height="4"/><rect x="692" y="430" width="2" height="4"/><rect x="694" y="430" width="2" height="4"/><rect x="696" y="430" width="2" height="4"/><rect x="698" y="430" width="2" height="4"/><rect x="700" y="430" width="2" height="4"/><rect x="702" y="430" width="2" height="4"/><rect x="704" y="430" width="2" height="5"/><rect x="706" y="430" width="2" height="5"/><rect x="708" y="430" width="2" height="5"/><rect x="710" y="430" width="2" height="5"/><rect x="712" y="430" width="2" height="5"/><rect x="714" y="430" width="2" height="4"/><rect x="716" y="430" width="2" height="4"/><rect x="718" y="430" width="2" height="4"/><rect x="720" y="430" width="2" height="4"/><rect x="722" y="430" width="2" height="3"/><rect x="724" y="430" width="2" height="3"/><rect x="726" y="430" width="2" height="2"/><rect x="728" y="430" width="2" height="2"/><rect x="730" y="430" width="2" height="2"/><rect x="732" y="430" width="2" height="2"/><rect x="734" y="430" width="2" height="2"/><rect x="736" y="430" width="2" height="2"/><rect x="738" y="430" width="2" height="2"/><rect x="740" y="430" width="2" height="2"/><rect x="742" y="430" width="2" height="1"/><rect x="744" y="430" width="2" height="1"/><rect x="746" y="430" width="2" height="1"/><rect x="748" y="430" width="2" height="1"/><rect x="750" y="430" width="2" height="1"/><rect x="752" y="430" width="2" height="1"/><rect x="754" y="430" width="2" height="1"/><rect x="756" y="430" width="2" height="1"/><rect x="758" y="430" width="2" height="2"/><rect x="760" y="430" width="2" height="2"/><rect x="762" y="430" width="2" height="2"/><rect x="764" y="430" width="2" height="2"/><rect x="766" y="430" width="2" height="3"/><rect x="768" y="430" width="2" height="3"/><rect x="770" y="430" width="2" height="3"/><rect x="772" y="430" width="2" height="4"/><rect x="774" y="430" width="2" height="5"/><rect x="776" y="430" width="2" height="5"/><rect x="778" y="430" width="2" height="5"/><rect x="780" y="430" width="2" height="5"/><rect x="782" y="430" width="2" height="4"/><rect x="784" y="430" width="2" height="4"/><rect x="786" y="430" width="2" height="3"/><rect x="788" y="430" width="2" height="3"/><rect x="790" y="430" width="2" height="2"/><rect x="792" y="430" width="2" height="2"/><rect x="794" y="430" width="2" height="2"/><rect x="796" y="430" width="2" height="2"/><rect x="798" y="430" width="2" height="1"/><rect x="800" y="430" width="2" height="1"/><rect x="802" y="430" width="2" height="1"/><rect x="804" y="430" width="2" height="2"/><rect x="806" y="430" width="2" height="2"/><rect x="808" y="430" width="2" height="3"/><rect x="810" y="430" width="2" height="3"/><rect x="812" y="430" width="2" height="4"/><rect x="814" y="430" width="2" height="4"/><rect x="816" y="430" width="2" height="5"/><rect x="818" y="430" width="2" height="5"/><rect x="820" y="430" width="2" height="6"/><rect x="822" y="430" width="2" height="6"/><rect x="824" y="430" width="2" height="7"/><rect x="826" y="430" width="2" height="6"/><rect x="828" y="430" width="2" height="6"/><rect x="830" y="430" width="2" height="6"/><rect x="832" y="430" width="2" height="5"/><rect x="834" y="430" width="2" height="5"/><rect x="836" y="430" width="2" height="5"/><rect x="838" y="430" width="2" height="4"/><rect x="840" y="430" width="2" height="4"/><rect x="842" y="430" width="2" height="2"/><rect x="844" y="428" width="2" height="2"/><rect x="846" y="427" width="2" height="3"/><rect x="848" y="427" width="2" height="3"/><rect x="850" y="426" width="2" height="4"/><rect x="852" y="426" width="2" height="4"/><rect x="854" y="425" width="2" height="5"/><rect x="856" y="425" width="2" height="5"/><rect x="858" y="424" width="2" height="6"/><rect x="860" y="424" width="2" height="6"/><rect x="862" y="424" width="2" height="6"/><rect x="864" y="424" width="2" height="6"/><rect x="866" y="424" width="2" height="6"/><rect x="868" y="425" width="2" height="5"/><rect x="870" y="425" width="2" height="5"/><rect x="872" y="425" width="2" height="5"/><rect x="874" y="426" width="2" height="4"/><rect x="876" y="426" width="2" height="4"/><rect x="878" y="426" width="2" height="4"/><rect x="880" y="427" width="2" height="3"/><rect x="882" y="427" width="2" height="3"/><rect x="884" y="427" width="2" height="3"/><rect x="886" y="427" width="2" height="3"/><rect x="888" y="427" width="2" height="3"/><rect x="890" y="427" width="2" height="3"/><rect x="892" y="427" width="2" height="3"/><rect x="894" y="426" width="2" height="4"/><rect x="896" y="425" width="2" height="5"/><rect x="898" y="422" width="2" height="8"/><rect x="900" y="419" width="2" height="11"/><rect x="902" y="415" width="2" height="15"/><rect x="904" y="410" width="2" height="20"/><rect x="906" y="407" width="2" height="23"/><rect x="908" y="403" width="2" height="27"/><rect x="910" y="400" width="2" height="30"/><rect x="912" y="396" width="2" height="34"/><rect x="914" y="394" width="2" height="36"/><rect x="916" y="392" width="2" height="38"/></g>
<path d="M5 440.5h3M8 439.5h4M12 438.5h5M17 439.5h6M23 440.5h5M28 441.5h7M35 442.5h8M43 443.5h5M48 444.5h5M53 445.5h5M58 446.5h7M65 447.5h10M75 448.5h14M89 447.5h2M91 446.5h2M93 445.5h2M95 444.5h2M97 443.5h5M102 444.5h7M109 445.5h6M115 446.5h7M122 447.5h13M135 446.5h4M139 445.5h4M143 444.5h4M147 443.5h4M151 444.5h2M153 445.5h3M156 446.5h3M159 447.5h3M162 448.5h4M166 449.5h13M179 448.5h4M183 447.5h6M189 446.5h7M196 445.5h6M202 444.5h5M207 443.5h4M211 442.5h4M215 441.5h3M218 440.5h4M222 439.5h5M227 440.5h6M233 441.5h4M237 442.5h4M241 443.5h5M246 442.5h4M250 441.5h3M253 440.5h2M255 439.5h2M257 438.5h2M259 437.5h4M263 436.5h5M268 435.5h7M275 436.5h7M282 437.5h4M286 438.5h10M296 437.5h4M300 436.5h3M303 435.5h2M305 434.5h2M307 433.5h2M309 432.5h2M311 431.5h2M313 430.5h2M315 429.5h2M317 428.5h2M319 427.5h2M321 426.5h2M323 425.5h5M328 424.5h8M336 425.5h7M343 424.5h4M347 423.5h4M351 422.5h4M355 421.5h14M369 422.5h4M373 423.5h3M376 424.5h2M378 425.5h2M380 426.5h2M382 427.5h2M384 428.5h2M386 429.5h1M387 430.5h2M389 431.5h2M391 432.5h2M393 433.5h2M395 434.5h3M398 435.5h3M401 436.5h2M403 437.5h3M406 438.5h5M411 439.5h9M420 440.5h9M429 441.5h8M437 442.5h16M453 441.5h3M456 440.5h2M458 439.5h2M460 438.5h2M462 437.5h1M463 436.5h2M465 435.5h1M466 434.5h1M467 433.5h1M468 432.5h1M469 431.5h2M471 430.5h1M472 429.5h1M473 428.5h2M475 427.5h2M477 426.5h4M481 425.5h5M486 424.5h20M506 425.5h12M518 426.5h9M527 427.5h5M532 428.5h7M539 429.5h11M550 428.5h12M562 429.5h8M570 430.5h4M574 431.5h3M577 432.5h3M580 433.5h4M584 434.5h11M595 433.5h4M599 432.5h4M603 431.5h4M607 430.5h17M624 431.5h5M629 432.5h5M634 433.5h5M639 434.5h4M643 435.5h2M645 436.5h3M648 437.5h2M650 438.5h6M656 439.5h7M663 438.5h4M667 437.5h5M672 436.5h6M678 435.5h8M686 434.5h10M696 433.5h9M705 434.5h21M726 433.5h10M736 432.5h13M749 431.5h23M772 432.5h4M776 433.5h5M781 434.5h7M788 433.5h7M795 432.5h4M799 431.5h18M817 432.5h2M819 433.5h3M822 434.5h4M826 435.5h18M844 434.5h2M846 433.5h2M848 432.5h2M850 431.5h2M852 430.5h2M854 429.5h2M856 428.5h2M858 427.5h2M860 426.5h4M864 425.5h8M872 426.5h10M882 427.5h17M899 426.5h3M902 425.5h1M903 424.5h1M904 423.5h2M906 422.5h1M907 421.5h1M908 420.5h1M909.5 418v2M910 417.5h1M911 416.5h1M912.5 414v2M913.5 412v2M914.5 410v2M915 409.5h1M916.5 407v2M917 406.5h1" fill="none" stroke="#ff0000" stroke-width="1"/>
<path d="M5 478.5H1151M5 504.5H1151" stroke="#c0c0c0" stroke-width="1" stroke-dasharray="3 3" fill="none"/>
<path d="M5 496.5h3M8 497.5h3M11.5 498v2M12 500.5h1M13 501.5h1M14.5 502v2M15 504.5h1M16.5 502v2M17 501.5h1M18 500.5h1M19.5 498v2M20 497.5h1M21 498.5h1M22.5 499v2M23 501.5h1M24 502.5h1M25 501.5h1M26 500.5h1M27 499.5h1M28 500.5h2M30 501.5h2M32 502.5h1M33 501.5h2M35 502.5h2M37 503.5h1M38 502.5h1M39.5 500v2M40 499.5h1M41 500.5h2M43 501.5h2M45 502.5h2M47 503.5h1M48 504.5h2M50 505.5h1M51 506.5h2M53 507.5h2M55 506.5h1M56 505.5h1M57 504.5h2M59 505.5h2M61.5 503v2M62.5 501v2M63.5 499v2M64 500.5h1M65 501.5h1M66 502.5h2M68 501.5h2M70.5 502v2M71 504.5h1M72.5 505v2M73 507.5h1M74 508.5h1M75 509.5h2M76 510.5h1M77.5 507v2M78.5 505v2M79.5 503v2M80 502.5h1M81 501.5h2M83.5 499v2M84.5 497v2M85.5 495v2M86 493.5h2M86 494.5h1M88 492.5h2M90 493.5h2M92 494.5h2M94.5 495v2M95.5 497v3M96.5 500v2M97 502.5h1M98 503.5h1M99 504.5h1M100 505.5h1M101 504.5h1M102 503.5h1M103 502.5h1M104 501.5h3M107 502.5h1M108 503.5h1M109 504.5h2M110 505.5h1M111.5 501v3M112.5 498v3M113.5 496v2M114 497.5h1M115 498.5h2M117 499.5h1M118 500.5h1M119 501.5h2M121 502.5h1M122 503.5h2M124 504.5h2M126 505.5h1M127 504.5h1M128.5 502v2M129 501.5h1M130.5 499v2M131.5 497v2M132 496.5h1M133 495.5h1M134.5 493v2M135 492.5h1M136 493.5h2M138 494.5h1M139 495.5h1M140 496.5h2M142 497.5h1M143.5 498v2M144 500.5h1M145.5 501v2M146 503.5h1M147 504.5h1M148 505.5h2M150 506.5h1M151 505.5h1M152.5 503v2M153 502.5h2M155 501.5h2M157 500.5h2M159 501.5h1M160.5 502v2M161 504.5h1M162 505.5h2M164 506.5h1M165.5 504v2M166.5 502v2M167 501.5h1M168 502.5h1M169 503.5h1M170 502.5h1M171 501.5h1M172 500.5h6M178 499.5h1M179 498.5h2M181 497.5h1M182 498.5h1M183.5 499v2M184 501.5h2M186 502.5h2M188 503.5h1M189 504.5h1M190 505.5h1M191 504.5h1M192 503.5h2M194 502.5h1M195 501.5h1M196 500.5h2M198 499.5h1M199 498.5h1M200 499.5h1M201 500.5h1M202 501.5h2M204 502.5h1M205 503.5h1M206 502.5h1M207 501.5h1M208 500.5h1M209 499.5h1M210 498.5h1M211 497.5h1M212 496.5h1M213 495.5h1M214 496.5h2M216 497.5h2M218 496.5h1M219 495.5h1M220 496.5h1M221 497.5h1M222 498.5h1M223 499.5h1M224.5 500v2M225.5 502v2M226.5 504v2M227 506.5h1M228 507.5h1M229 508.5h1M230.5 506v2M231.5 504v2M232.5 502v2M233 501.5h1M234 500.5h2M236 499.5h1M237 500.5h1M238.5 501v2M239 503.5h1M240.5 501v2M241.5 499v2M242.5 497v2M243 496.5h1M244 495.5h1M245 494.5h1M246 493.5h1M247 492.5h1M248 493.5h1M249.5 494v2M250 496.5h1M251 497.5h1M252.5 495v2M253 494.5h1M254.5 492v2M255 491.5h1M256 492.5h1M257 493.5h2M259 494.5h1M260.5 492v2M261.5 490v2M262.5 491v2M263.5 493v2M264.5 495v2M265 497.5h1M266.5 495v2M267 494.5h2M269 495.5h2M271 494.5h2M273 493.5h2M275.5 494v2M276 496.5h1M277 497.5h1M278.5 498v2M279 500.5h1M280 499.5h2M282 498.5h1M283 499.5h2M285 500.5h2M287 501.5h1M288.5 499v2M289.5 497v2M290.5 495v2M291 494.5h1M292.5 492v2M293 491.5h3M296 490.5h3M299 491.5h1M300 492.5h2M301 493.5h1M302.5 488v4M303.5 485v3M304.5 486v2M305 488.5h1M306.5 489v2M307 491.5h1M308 490.5h2M310 489.5h2M312 488.5h1M313.5 486v2M314.5 484v2M315.5 482v2M316 480.5h2M316 481.5h1M317 479.5h1M318.5 481v2M319.5 483v2M320.5 485v2M321 487.5h1M322.5 488v2M323 490.5h1M324 491.5h1M325.5 489v2M326 488.5h2M328 489.5h3M331 490.5h2M333.5 488v2M334 487.5h5M339 486.5h1M340 485.5h2M342 484.5h1M343 483.5h2M345 482.5h2M347.5 480v2M348.5 478v2M349 479.5h1M350 480.5h1M351 481.5h1M352 482.5h1M353 481.5h2M355.5 482v2M356.5 484v2M357.5 486v2M358 488.5h1M359 487.5h1M360 486.5h1M361 485.5h4M365 486.5h1M366 487.5h1M367 488.5h1M368 489.5h1M369 490.5h1M370 491.5h2M372 492.5h2M374 493.5h1M375.5 494v2M376 496.5h1M377 497.5h1M378 498.5h2M380 499.5h2M382 498.5h2M384 499.5h1M385.5 500v2M386 502.5h1M387.5 500v2M388 499.5h1M389 500.5h1M390.5 501v2M391 503.5h1M392 504.5h1M393 503.5h1M394.5 501v2M395 500.5h1M396 499.5h1M397.5 497v2M398 496.5h1M399 497.5h2M400 498.5h1M401.5 499v2M402.5 501v3M403.5 504v2M404 506.5h3M404 507.5h1M406 505.5h1M407.5 503v2M408.5 500v3M409.5 498v2M410.5 496v2M411 497.5h1M412 498.5h2M414 499.5h1M415 500.5h2M417 501.5h1M418 500.5h1M419.5 498v2M420 497.5h4M424 498.5h1M425.5 499v2M426 501.5h1M427 502.5h1M428 503.5h1M429 504.5h1M430 505.5h1M431 506.5h1M432 507.5h2M434 508.5h1M435.5 506v2M436 505.5h1M437.5 503v2M438 502.5h1M439 501.5h1M440.5 499v2M441 498.5h1M442 497.5h1M443 498.5h2M445 499.5h1M446.5 497v2M447.5 495v2M448 496.5h1M449.5 497v2M450 499.5h1M451 498.5h2M453.5 496v2M454.5 494v2M455 493.5h1M456 492.5h2M458.5 490v2M459.5 488v2M460.5 485v3M461 483.5h2M461 484.5h1M463 482.5h2M465 481.5h2M467 480.5h2M469 479.5h1M470 480.5h1M471.5 481v2M472 483.5h1M473 484.5h2M475 485.5h2M477 484.5h2M479 483.5h2M481 482.5h1M482 483.5h1M483 484.5h1M484 485.5h1M485 486.5h1M486 485.5h1M487.5 483v2M488 482.5h1M489 481.5h2M491 480.5h1M492 481.5h1M493 482.5h1M494 483.5h1M495 484.5h3M497 485.5h1M498.5 486v2M499.5 488v2M500 490.5h3M500 491.5h1M503.5 488v2M504.5 486v2M505.5 484v2M506.5 482v2M507.5 484v2M508.5 486v2M509.5 488v2M510 490.5h3M510 491.5h1M513 489.5h1M514 488.5h1M515.5 486v2M516.5 483v3M517.5 480v3M518.5 478v3M519.5 481v4M520.5 485v5M521.5 490v3M522 492.5h6M528 493.5h3M531 492.5h1M532.5 490v2M533 489.5h1M534 488.5h2M536 487.5h1M537 488.5h1M538 489.5h1M539 490.5h6M545 489.5h1M546.5 487v2M547 486.5h1M548 487.5h1M549 488.5h1M550 487.5h1M551 486.5h1M552 485.5h1M553.5 486v2M554.5 488v2M555.5 490v2M556 492.5h1M557 493.5h2M559 492.5h1M560 491.5h3M562 490.5h1M563.5 492v2M564.5 494v2M565 495.5h1M566 496.5h3M569 497.5h2M571 498.5h1M572 499.5h2M574 500.5h1M575.5 498v2M576.5 496v2M577.5 494v2M578 493.5h2M580 494.5h2M582 495.5h1M583 496.5h1M584 497.5h4M588.5 498v2M589.5 500v2M590.5 497v3M591.5 494v3M592.5 491v3M593.5 489v2M594 488.5h1M595.5 486v2M596 485.5h1M597 486.5h1M598 487.5h1M599.5 488v2M600 490.5h1M601 491.5h2M603 492.5h3M606 491.5h1M607 490.5h1M608 489.5h2M609 488.5h1M610.5 490v2M611.5 492v3M612.5 495v2M613 497.5h2M613 498.5h1M615.5 495v2M616 494.5h1M617 493.5h2M619 492.5h2M621 493.5h2M623 494.5h1M624 493.5h1M625 492.5h1M626 491.5h1M627.5 492v2M628.5 494v2M629.5 496v2M630 498.5h1M631 497.5h1M632 496.5h1M633 495.5h1M634.5 496v2M635.5 498v2M636.5 500v4M637 504.5h2M637 505.5h1M638 503.5h1M639.5 501v2M640 500.5h1M641 501.5h2M643 502.5h3M646 503.5h3M649.5 501v2M650.5 499v2M651.5 497v2M652.5 495v2M653 494.5h1M654 495.5h2M656 496.5h2M658 495.5h2M660 496.5h2M662 497.5h5M667 496.5h1M668 495.5h2M670 494.5h1M671 495.5h1M672 496.5h1M673 497.5h1M674 498.5h1M675 497.5h1M676 496.5h2M678 495.5h1M679.5 496v2M680 498.5h1M681 497.5h1M682.5 495v2M683 494.5h1M684 493.5h3M687 492.5h4M691 491.5h3M694.5 492v2M695.5 494v2M696.5 496v2M697 498.5h3M697 499.5h1M700 497.5h3M703 496.5h3M706.5 497v2M707.5 499v2M708 501.5h2M708 502.5h2M709 503.5h1M710.5 497v4M711 494.5h6M711.5 495v2M717 493.5h2M719 492.5h2M721 491.5h2M723 490.5h2M725 491.5h1M726 492.5h1M727 493.5h4M731 494.5h5M736 495.5h2M738 496.5h2M740.5 494v2M741 493.5h1M742.5 494v2M743 496.5h2M743 497.5h1M745.5 494v2M746 493.5h1M747 492.5h2M749 491.5h2M750.5 489v2M751.5 485v4M752.5 486v2M753.5 488v2M754 490.5h2M756 491.5h2M757 492.5h1M758.5 493v3M759.5 496v2M760 497.5h1M761 498.5h2M763 499.5h1M764 500.5h1M765 501.5h1M766 500.5h1M767.5 498v2M768 497.5h1M769 498.5h1M770 499.5h1M771 500.5h1M772 501.5h1M773 502.5h1M774 503.5h1M775 504.5h1M776 505.5h2M778.5 503v2M779.5 499v4M780.5 495v4M781.5 491v4M782.5 488v3M783 488.5h1M784 487.5h3M787 488.5h1M788.5 489v2M789 491.5h1M790 492.5h1M791.5 493v2M792 495.5h1M793.5 493v2M794 491.5h2M794 492.5h1M796 490.5h3M799 491.5h2M801 490.5h2M803 489.5h1M804.5 490v2M805.5 492v2M806 494.5h1M807.5 495v2M808.5 497v2M809.5 499v2M810 501.5h2M812 502.5h2M814 501.5h2M816 502.5h1M817 503.5h2M819 504.5h1M820.5 502v2M821.5 500v2M822 501.5h1M823 502.5h1M824 503.5h1M825 502.5h1M826 501.5h1M827 500.5h1M828 499.5h1M829 498.5h1M830 497.5h2M832 496.5h2M834 495.5h1M835 496.5h2M837 497.5h5M841.5 495v2M842.5 491v4M843.5 485v6M844.5 479v6M845.5 475v4M846.5 476v2M847.5 478v2M848.5 480v2M849.5 482v3M850.5 485v2M851 486.5h1M852 485.5h3M855 484.5h2M857 483.5h2M859.5 481v2M860 480.5h1M861.5 481v2M862 483.5h2M864 484.5h3M867.5 485v2M868.5 487v2M869 489.5h1M870 490.5h1M871.5 491v2M872 493.5h1M873.5 491v2M874.5 489v2M875 488.5h1M876 487.5h1M877 486.5h1M878.5 487v2M879.5 489v2M880 491.5h2M882 490.5h2M883 489.5h1M884.5 487v2M885.5 485v2M886 486.5h1M887.5 487v2M888 489.5h1M889 488.5h1M890.5 486v2M891 485.5h1M892.5 486v2M893 488.5h3M893 489.5h1M895 487.5h1M896.5 484v3M897.5 481v3M898.5 479v2M899.5 477v2M900.5 475v2M901.5 473v2M902 472.5h1M903.5 470v2M904 469.5h1M905 468.5h2M907 467.5h4M911 466.5h2M913.5 467v2M914 469.5h1M915 468.5h2M917 467.5h1" fill="none" stroke="#1e90ff" stroke-width="1"/>
<rect x="1152" y="53" width="2" height="1" fill="#000"/>
<text x="1157.5" y="57" font-size="10" fill="#000" textLength="32.3" lengthAdjust="spacingAndGlyphs" text-anchor="start" xml:space="preserve">6.99270</text>
<rect x="1152" y="86" width="2" height="1" fill="#000"/>
<text x="1157.5" y="90" font-size="10" fill="#000" textLength="32.3" lengthAdjust="spacingAndGlyphs" text-anchor="start" xml:space="preserve">6.92340</text>
<rect x="1152" y="119" width="2" height="1" fill="#000"/>
<text x="1157.5" y="123" font-size="10" fill="#000" textLength="32.3" lengthAdjust="spacingAndGlyphs" text-anchor="start" xml:space="preserve">6.85410</text>
<rect x="1152" y="152" width="2" height="1" fill="#000"/>
<text x="1157.5" y="156" font-size="10" fill="#000" textLength="32.3" lengthAdjust="spacingAndGlyphs" text-anchor="start" xml:space="preserve">6.78270</text>
<rect x="1152" y="185" width="2" height="1" fill="#000"/>
<text x="1157.5" y="189" font-size="10" fill="#000" textLength="32.3" lengthAdjust="spacingAndGlyphs" text-anchor="start" xml:space="preserve">6.71340</text>
<rect x="1152" y="251" width="2" height="1" fill="#000"/>
<text x="1157.5" y="255" font-size="10" fill="#000" textLength="32.3" lengthAdjust="spacingAndGlyphs" text-anchor="start" xml:space="preserve">6.57270</text>
<rect x="1152" y="284" width="2" height="1" fill="#000"/>
<text x="1157.5" y="288" font-size="10" fill="#000" textLength="32.3" lengthAdjust="spacingAndGlyphs" text-anchor="start" xml:space="preserve">6.50340</text>
<rect x="1152" y="350" width="2" height="1" fill="#000"/>
<text x="1157.5" y="354" font-size="10" fill="#000" textLength="32.3" lengthAdjust="spacingAndGlyphs" text-anchor="start" xml:space="preserve">6.36270</text>
<rect x="1152" y="383" width="2" height="1" fill="#000"/>
<text x="1157.5" y="387" font-size="10" fill="#000" textLength="32.3" lengthAdjust="spacingAndGlyphs" text-anchor="start" xml:space="preserve">6.29340</text>
<rect x="1152" y="218" width="2" height="1" fill="#000"/>
<rect x="1152" y="317" width="2" height="1" fill="#000"/>
<rect x="1153" y="157" width="41" height="11" fill="#ff0000"/>
<text x="1156.5" y="166" font-size="10" fill="#fff" textLength="33.5" lengthAdjust="spacingAndGlyphs" text-anchor="start" xml:space="preserve">6.75998</text>
<rect x="1153" y="201" width="41" height="11" fill="#000000"/>
<text x="1156.5" y="210" font-size="10" fill="#fff" textLength="33.5" lengthAdjust="spacingAndGlyphs" text-anchor="start" xml:space="preserve">6.66827</text>
<rect x="1153" y="213" width="41" height="11" fill="#ff0000"/>
<text x="1156.5" y="222" font-size="10" fill="#fff" textLength="33.5" lengthAdjust="spacingAndGlyphs" text-anchor="start" xml:space="preserve">6.64169</text>
<rect x="1153" y="261" width="41" height="11" fill="#00ff00"/>
<text x="1156.5" y="270" font-size="10" fill="#fff" textLength="33.5" lengthAdjust="spacingAndGlyphs" text-anchor="start" xml:space="preserve">6.53845</text>
<rect x="1153" y="314" width="41" height="11" fill="#0000ff"/>
<text x="1156.5" y="323" font-size="10" fill="#fff" textLength="33.5" lengthAdjust="spacingAndGlyphs" text-anchor="start" xml:space="preserve">6.42660</text>
<rect x="1153" y="364" width="41" height="11" fill="#0000ff"/>
<text x="1156.5" y="373" font-size="10" fill="#fff" textLength="33.5" lengthAdjust="spacingAndGlyphs" text-anchor="start" xml:space="preserve">6.32018</text>
<rect x="1152" y="390" width="2" height="1" fill="#000"/>
<text x="1155" y="401" font-size="10" fill="#000" textLength="38.5" lengthAdjust="spacingAndGlyphs" text-anchor="start" xml:space="preserve">0.083325</text>
<rect x="1152" y="430" width="2" height="1" fill="#000"/>
<text x="1157.5" y="435" font-size="10" fill="#000" textLength="18" lengthAdjust="spacingAndGlyphs" text-anchor="start" xml:space="preserve">0.00</text>
<rect x="1152" y="452" width="2" height="1" fill="#000"/>
<text x="1153.5" y="451" font-size="10" fill="#000" textLength="42" lengthAdjust="spacingAndGlyphs" text-anchor="start" xml:space="preserve">-0.049068</text>
<rect x="1152" y="458" width="2" height="1" fill="#000"/>
<text x="1155" y="467" font-size="10" fill="#000" textLength="14.5" lengthAdjust="spacingAndGlyphs" text-anchor="start" xml:space="preserve">100</text>
<text x="1155" y="482" font-size="10" fill="#000" textLength="9.6" lengthAdjust="spacingAndGlyphs" text-anchor="start" xml:space="preserve">70</text>
<text x="1155" y="508" font-size="10" fill="#000" textLength="9.6" lengthAdjust="spacingAndGlyphs" text-anchor="start" xml:space="preserve">30</text>
<rect x="1152" y="523" width="2" height="1" fill="#000"/>
<text x="1155" y="522" font-size="10" fill="#000" textLength="4.8" lengthAdjust="spacingAndGlyphs" text-anchor="start" xml:space="preserve">0</text>
<text x="9.4" y="401" font-size="10" fill="#000" textLength="147.4" lengthAdjust="spacingAndGlyphs" text-anchor="start" xml:space="preserve">MACD(12,26,9) 0.077307 0.051495</text>
<text x="9.4" y="469" font-size="10" fill="#000" textLength="67.4" lengthAdjust="spacingAndGlyphs" text-anchor="start" xml:space="preserve">RSI(14) 83.9755</text>
<rect x="5" y="526" width="1" height="3" fill="#000"/>
<text transform="translate(4.3,538) scale(0.915,1)" font-size="10" fill="#000" xml:space="preserve">29 Jul 2020</text>
<rect x="69" y="526" width="1" height="3" fill="#000"/>
<text transform="translate(68.3,538) scale(0.915,1)" font-size="10" fill="#000" xml:space="preserve">11 Sep 2020</text>
<rect x="133" y="526" width="1" height="3" fill="#000"/>
<text transform="translate(132.3,538) scale(0.915,1)" font-size="10" fill="#000" xml:space="preserve">27 Oct 2020</text>
<rect x="197" y="526" width="1" height="3" fill="#000"/>
<text transform="translate(196.3,538) scale(0.915,1)" font-size="10" fill="#000" xml:space="preserve">10 Dec 2020</text>
<rect x="261" y="526" width="1" height="3" fill="#000"/>
<text transform="translate(260.3,538) scale(0.915,1)" font-size="10" fill="#000" xml:space="preserve">27 Jan 2021</text>
<rect x="325" y="526" width="1" height="3" fill="#000"/>
<text transform="translate(324.3,538) scale(0.915,1)" font-size="10" fill="#000" xml:space="preserve">12 Mar 2021</text>
<rect x="389" y="526" width="1" height="3" fill="#000"/>
<text transform="translate(388.3,538) scale(0.915,1)" font-size="10" fill="#000" xml:space="preserve">28 Apr 2021</text>
<rect x="453" y="526" width="1" height="3" fill="#000"/>
<text transform="translate(452.3,538) scale(0.915,1)" font-size="10" fill="#000" xml:space="preserve">11 Jun 2021</text>
<rect x="517" y="526" width="1" height="3" fill="#000"/>
<text transform="translate(516.3,538) scale(0.915,1)" font-size="10" fill="#000" xml:space="preserve">27 Jul 2021</text>
<rect x="581" y="526" width="1" height="3" fill="#000"/>
<text transform="translate(580.3,538) scale(0.915,1)" font-size="10" fill="#000" xml:space="preserve">9 Sep 2021</text>
<rect x="645" y="526" width="1" height="3" fill="#000"/>
<text transform="translate(644.3,538) scale(0.915,1)" font-size="10" fill="#000" xml:space="preserve">25 Oct 2021</text>
<rect x="709" y="526" width="1" height="3" fill="#000"/>
<text transform="translate(708.3,538) scale(0.915,1)" font-size="10" fill="#000" xml:space="preserve">8 Dec 2021</text>
<rect x="773" y="526" width="1" height="3" fill="#000"/>
<text transform="translate(772.3,538) scale(0.915,1)" font-size="10" fill="#000" xml:space="preserve">21 Jan 2022</text>
<rect x="837" y="526" width="1" height="3" fill="#000"/>
<text transform="translate(836.3,538) scale(0.915,1)" font-size="10" fill="#000" xml:space="preserve">8 Mar 2022</text>
<rect x="901" y="526" width="1" height="3" fill="#000"/>
<text transform="translate(900.3,538) scale(0.915,1)" font-size="10" fill="#000" xml:space="preserve">21 Apr 2022</text>
<text x="6.2" y="12" font-size="9.3" fill="#3c3c3c" text-anchor="end" xml:space="preserve">15</text>
<text x="16.2" y="12" font-size="9.3" fill="#3c3c3c" textLength="18" lengthAdjust="spacingAndGlyphs" text-anchor="start" xml:space="preserve">M30</text>
<text x="47.4" y="12" font-size="9.3" fill="#3c3c3c" textLength="11.6" lengthAdjust="spacingAndGlyphs" text-anchor="start" xml:space="preserve">H1</text>
<text x="74.5" y="12" font-size="9.3" fill="#3c3c3c" textLength="12.5" lengthAdjust="spacingAndGlyphs" text-anchor="start" xml:space="preserve">H4</text>
<rect x="97" y="0" width="1" height="18" fill="#8c8c8c"/>
<rect x="98" y="0" width="24" height="17" fill="#f8f8f8"/>
<rect x="98" y="17" width="25" height="1" fill="#ffffff"/>
<rect x="122" y="0" width="1" height="18" fill="#ffffff"/>
<text x="103.6" y="12" font-size="9.3" fill="#3c3c3c" textLength="11.6" lengthAdjust="spacingAndGlyphs" text-anchor="start" xml:space="preserve">D1</text>
<text x="131" y="12" font-size="9.3" fill="#3c3c3c" textLength="14.4" lengthAdjust="spacingAndGlyphs" text-anchor="start" xml:space="preserve">W1</text>
<text x="157.8" y="12" font-size="9.3" fill="#3c3c3c" textLength="14.5" lengthAdjust="spacingAndGlyphs" text-anchor="start" xml:space="preserve">MN</text>
<rect x="180" y="0" width="1" height="19" fill="#9a9a9a"/>
<rect x="181" y="0" width="1" height="19" fill="#fafafa"/>
<path d="M8 35L11.5 31L15 35Z" fill="#000" shape-rendering="auto"/>
<text x="20.8" y="36" font-size="10" fill="#000" textLength="68" lengthAdjust="spacingAndGlyphs" text-anchor="start" xml:space="preserve">USDCNH-,Daily</text>
<text x="95.5" y="36" font-size="10" fill="#000" textLength="140" lengthAdjust="spacingAndGlyphs" text-anchor="start" xml:space="preserve">6.67297 6.67394 6.65955 6.66827</text>
<defs><linearGradient id="gb" x1="0" y1="0" x2="0" y2="1"><stop offset="0" stop-color="#5a5af8"/><stop offset="1" stop-color="#3030dc"/></linearGradient><linearGradient id="gl" x1="0" y1="0" x2="0" y2="1"><stop offset="0" stop-color="#3434de"/><stop offset="0.55" stop-color="#1414c4"/><stop offset="1" stop-color="#0000a4"/></linearGradient><linearGradient id="gs" x1="0" y1="0" x2="0" y2="1"><stop offset="0" stop-color="#eeeeee"/><stop offset="0.45" stop-color="#e2e2e2"/><stop offset="0.52" stop-color="#d3d3d3"/><stop offset="1" stop-color="#c8c8c8"/></linearGradient><linearGradient id="glu" gradientUnits="userSpaceOnUse" x1="0" y1="68" x2="0" y2="101"><stop offset="0" stop-color="#3434de"/><stop offset="0.55" stop-color="#1414c4"/><stop offset="1" stop-color="#0000a4"/></linearGradient></defs>
<rect x="7" y="43" width="221" height="59" fill="#ffffff"/>
<rect x="8" y="68" width="109" height="33" fill="url(#gl)"/>
<rect x="119" y="68" width="108" height="33" fill="url(#gl)"/>
<rect x="8" y="44" width="52" height="24" fill="url(#gb)"/>
<rect x="175" y="44" width="52" height="24" fill="url(#gb)"/>
<rect x="8" y="44" width="52" height="1" fill="#2a2ac8"/>
<rect x="175" y="44" width="52" height="1" fill="#2a2ac8"/>
<rect x="12" y="67" width="44" height="1" fill="#1c1cb0"/><rect x="12" y="68" width="44" height="1" fill="#8c8cf4"/>
<rect x="179" y="67" width="44" height="1" fill="#1c1cb0"/><rect x="179" y="68" width="44" height="1" fill="#8c8cf4"/>
<rect x="62.5" y="44.5" width="110" height="21" fill="#ffffff" stroke="#ababab" stroke-width="1"/>
<rect x="64" y="46" width="19" height="18" fill="url(#gs)"/>
<rect x="83" y="45" width="1" height="20" fill="#b4b4b4"/>
<rect x="152" y="46" width="19" height="18" fill="url(#gs)"/>
<rect x="151" y="45" width="1" height="20" fill="#b4b4b4"/>
<path d="M70.2 53.2H75L72.6 56Z" fill="#4a62b4" shape-rendering="auto"/>
<path d="M159.2 56H164L161.6 53.2Z" fill="#4a62b4" shape-rendering="auto"/>
<text x="124.5" y="59" font-size="12" fill="#000" textLength="23.1" lengthAdjust="spacingAndGlyphs" text-anchor="start" xml:space="preserve">2.00</text>
<text x="20.6" y="60" font-size="12.3" fill="#f0f0ff" textLength="25.6" lengthAdjust="spacingAndGlyphs" text-anchor="start" xml:space="preserve">SELL</text>
<text x="188.6" y="60" font-size="12.3" fill="#f0f0ff" textLength="22.6" lengthAdjust="spacingAndGlyphs" text-anchor="start" xml:space="preserve">BUY</text>
<text x="56.0" y="96.3" font-size="34.6" fill="#ffffff" stroke="url(#glu)" stroke-width="0.45" textLength="34.4" lengthAdjust="spacingAndGlyphs" text-anchor="start" xml:space="preserve">82</text>
<text x="167.3" y="96.3" font-size="34.6" fill="#ffffff" stroke="url(#glu)" stroke-width="0.45" textLength="34.8" lengthAdjust="spacingAndGlyphs" text-anchor="start" xml:space="preserve">06</text>
<text x="28.1" y="95.5" font-size="11.9" font-weight="bold" fill="#ffffff" textLength="23.8" lengthAdjust="spacingAndGlyphs" text-anchor="start" xml:space="preserve">6.66</text>
<text x="137.9" y="95.5" font-size="11.9" font-weight="bold" fill="#ffffff" textLength="23.6" lengthAdjust="spacingAndGlyphs" text-anchor="start" xml:space="preserve">6.67</text>
<text x="94.6" y="80" font-size="12.3" font-weight="bold" fill="#ffffff" text-anchor="start" xml:space="preserve">7</text>
<text x="205.6" y="80" font-size="12.3" font-weight="bold" fill="#ffffff" text-anchor="start" xml:space="preserve">1</text>
<rect x="0" y="546" width="1194" height="1" fill="#e4e4e4"/>
<rect x="0" y="549" width="1194" height="19" fill="#f0f0f0"/>
<rect x="0" y="548" width="1194" height="1" fill="#000"/>
<rect x="0" y="549" width="2" height="18" fill="#808080"/>
<rect x="539" y="547" width="110" height="19" fill="#ffffff"/>
<rect x="538" y="548" width="1" height="19" fill="#000"/><rect x="649" y="548" width="1" height="19" fill="#000"/><rect x="538" y="566" width="112" height="1" fill="#000"/>
<text x="17" y="563" font-size="12.5" fill="#6e6e6e" textLength="78" lengthAdjust="spacingAndGlyphs" text-anchor="start" xml:space="preserve">USDX,Weekly</text>
<text x="117" y="563" font-size="12.5" fill="#6e6e6e" textLength="84.8" lengthAdjust="spacingAndGlyphs" text-anchor="start" xml:space="preserve">EURUSD-,Daily</text>
<text x="224.4" y="563" font-size="12.5" fill="#6e6e6e" textLength="86.5" lengthAdjust="spacingAndGlyphs" text-anchor="start" xml:space="preserve">AUDUSD-,Daily</text>
<text x="334" y="563" font-size="12.5" fill="#6e6e6e" textLength="83.6" lengthAdjust="spacingAndGlyphs" text-anchor="start" xml:space="preserve">USDCHF-,Daily</text>
<text x="441.3" y="563" font-size="12.5" fill="#6e6e6e" textLength="85.4" lengthAdjust="spacingAndGlyphs" text-anchor="start" xml:space="preserve">USDCAD-,Daily</text>
<text x="662" y="563" font-size="12.5" fill="#6e6e6e" textLength="83.4" lengthAdjust="spacingAndGlyphs" text-anchor="start" xml:space="preserve">XAUUSD-,M15</text>
<text x="768.7" y="563" font-size="12.5" fill="#6e6e6e" textLength="69.3" lengthAdjust="spacingAndGlyphs" text-anchor="start" xml:space="preserve">UKOil-,Daily</text>
<text x="861" y="563" font-size="12.5" fill="#6e6e6e" textLength="77.6" lengthAdjust="spacingAndGlyphs" text-anchor="start" xml:space="preserve">DJ30-,Weekly</text>
<text x="961" y="563" font-size="12.5" fill="#6e6e6e" textLength="61.8" lengthAdjust="spacingAndGlyphs" text-anchor="start" xml:space="preserve">UK100-,H1</text>
<text x="1045.9" y="563" font-size="12.5" fill="#6e6e6e" textLength="56.1" lengthAdjust="spacingAndGlyphs" text-anchor="start" xml:space="preserve">USOil-,H1</text>
<text x="1124.6" y="563" font-size="12.5" fill="#6e6e6e" textLength="36.4" lengthAdjust="spacingAndGlyphs" text-anchor="start" xml:space="preserve">HK50-,</text>
<text x="550.5" y="563" font-size="12.5" fill="#000" textLength="87.3" lengthAdjust="spacingAndGlyphs" text-anchor="start" xml:space="preserve">USDCNH-,Daily</text>
<rect x="106" y="551" width="1" height="14" fill="#5a5a5a"/>
<rect x="214" y="551" width="1" height="14" fill="#5a5a5a"/>
<rect x="322" y="551" width="1" height="14" fill="#5a5a5a"/>
<rect x="430" y="551" width="1" height="14" fill="#5a5a5a"/>
<rect x="757" y="551" width="1" height="14" fill="#5a5a5a"/>
<rect x="850" y="551" width="1" height="14" fill="#5a5a5a"/>
<rect x="950" y="551" width="1" height="14" fill="#5a5a5a"/>
<rect x="1034" y="551" width="1" height="14" fill="#5a5a5a"/>
<rect x="1114" y="551" width="1" height="14" fill="#5a5a5a"/>
<rect x="1162" y="549" width="32" height="18" fill="#f0f0f0"/>
<path d="M1170.2 553.8V560.2L1167 557Z" fill="#8a8a8a" shape-rendering="auto"/>
<path d="M1186 553.8V560.2L1189.4 557Z" fill="#000" shape-rendering="auto"/>
</svg>
</body></html>
